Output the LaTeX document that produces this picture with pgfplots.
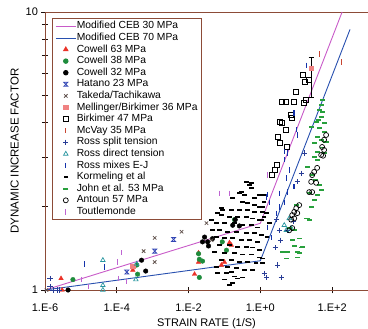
\documentclass[border=0pt]{standalone}
\usepackage{pgfplots}
\pgfplotsset{compat=1.18}
\usepackage{fontspec}
\setmainfont{Liberation Sans}
\definecolor{axbrown}{RGB}{140,75,55}
\definecolor{ceb30}{RGB}{200,90,200}
\definecolor{ceb70}{RGB}{40,80,175}
\definecolor{cred}{RGB}{235,50,40}
\definecolor{cgreen}{RGB}{30,140,60}
\definecolor{hblue}{RGB}{50,70,180}
\definecolor{tgray}{RGB}{95,80,75}
\definecolor{mpink}{RGB}{240,130,130}
\definecolor{mcvay}{RGB}{200,70,50}
\definecolor{rsblue}{RGB}{40,60,150}
\definecolor{rdteal}{RGB}{40,150,160}
\definecolor{rmblue}{RGB}{20,50,170}
\definecolor{jgreen}{RGB}{40,160,60}
\definecolor{tviolet}{RGB}{190,100,210}
\pgfdeclareplotmark{hourglass}{%
  \pgfpathmoveto{\pgfqpoint{-\pgfplotmarksize}{\pgfplotmarksize}}%
  \pgfpathlineto{\pgfqpoint{\pgfplotmarksize}{\pgfplotmarksize}}%
  \pgfpathlineto{\pgfqpoint{-\pgfplotmarksize}{-\pgfplotmarksize}}%
  \pgfpathlineto{\pgfqpoint{\pgfplotmarksize}{-\pgfplotmarksize}}%
  \pgfpathclose\pgfusepathqstroke}
\begin{document}
\begin{tikzpicture}
\useasboundingbox (-45pt,-39pt) rectangle (323pt,290pt);
\begin{axis}[
  at={(0pt,0pt)}, anchor=south west,
  scale only axis, width=323pt, height=278pt,
  xmode=log, ymode=log,
  xmin=1e-6, xmax=1e3, ymin=1, ymax=10,
  axis x line*=box, axis y line*=left,
  axis line style={axbrown, line width=0.8pt},
  xtick={1e-6,1e-4,1e-2,1,1e2},
  xticklabels={1.E-6,1.E-4,1.E-2,1.E+0,1.E+2},
  minor xtick={},
  ytick={1,10}, yticklabels={1,10},
  minor ytick={2,3,4,5,6,7,8,9},
  xtick pos=bottom, ytick pos=left,
  tick align=center,
  major tick length=7pt, minor tick length=6pt,
  tick style={black!80!axbrown, line width=0.7pt},
  ticklabel style={font=\fontsize{11}{13}\selectfont},
  xticklabel style={yshift=-7pt},
  xlabel={STRAIN RATE (1/S)},
  ylabel={DYNAMIC INCREASE FACTOR},
  xlabel style={font=\fontsize{11}{13}\selectfont},
  ylabel style={font=\fontsize{11.5}{13}\selectfont},
  clip=false,
  legend cell align=left,
  legend style={at={(0.0217,0.978)}, anchor=north west, draw=axbrown, line width=0.8pt,
    font=\fontsize{10.3}{12}\selectfont, row sep=0pt,
    nodes={inner sep=0.6pt, text height=7.8pt, text depth=2.6pt},
    legend image post style={line width=0.8pt}},
  legend image code/.code={\draw[mark repeat=2,mark phase=2] plot coordinates {(0pt,0pt) (10pt,0pt) (20pt,0pt)};},
]
\addplot[ceb30, line width=0.9pt, no marks] coordinates {(1e-6,1) (1,1.738) (190,10)};
\addlegendentry{Modified CEB 30 MPa}
\addplot[ceb70, line width=0.9pt, no marks] coordinates {(1e-6,1) (1,1.274) (316,8.66)};
\addlegendentry{Modified CEB 70 MPa}
\addplot[only marks, mark=triangle*, mark size=2.6pt, color=cred] coordinates {
(2.8e-6,1.10) (3.0e-6,1.0) (2.8e-4,1.18) (1.9e-2,1.36) (1.9e-2,1.26) (1.47e-2,1.14)
(0.138,1.48) (0.1,1.26) (0.0825,1.23) (0.156,1.45)};
\addlegendentry{Cowell 63 MPa}
\addplot[only marks, mark=*, mark size=2.3pt, color=cgreen] coordinates {
(6.0e-6,1.09) (3.6e-4,1.23) (3.8e-4,1.14) (1.9e-2,1.35) (2.0e-2,1.29) (2.45e-2,1.27)
(2.0e-2,1.11) (0.19,1.79) (0.087,1.49) (0.114,1.39)};
\addlegendentry{Cowell 38 MPa}
\addplot[only marks, mark=*, mark size=2.3pt, color=black] coordinates {
(4.4e-6,1.0) (4.9e-4,1.28) (6.4e-4,1.17) (2.8e-2,1.55) (3.4e-2,1.49) (2.45e-2,1.49)
(3.6e-2,1.44) (4.64e-2,1.53) (0.20,1.79) (0.26,1.70) (0.17,1.71)};
\addlegendentry{Cowell 32 MPa}
\addplot[only marks, mark=hourglass, mark size=2pt, color=hblue, mark options={line width=0.8pt}] coordinates {
(1.9e-4,1.16) (1.14e-3,1.38) (3.83e-3,1.52)};
\addlegendentry{Hatano 23 MPa}
\addplot[only marks, mark=x, mark size=2.4pt, color=tgray, mark options={line width=0.8pt}] coordinates {
(1.1e-6,1.0) (5.6e-4,1.38) (1.14e-3,1.54) (1.14e-3,1.26) (6.4e-3,1.62) (3.16e-2,1.74) (4.4e-2,1.51)};
\addlegendentry{Takeda/Tachikawa}
\addplot[only marks, mark=square*, mark size=2.2pt, color=mpink,
  error bars/.cd, y dir=both, y explicit, error bar style={black, line width=0.7pt}, error mark options={black, mark size=2.5pt, rotate=90}] coordinates {
(2.8e-4,1.22) +- (0,0) (26,6.28) += (0,0.6) -= (0,1.33)};
\addlegendentry{Mellinger/Birkimer 36 MPa}
\addplot[only marks, mark=square, mark size=2.5pt, color=black, mark options={line width=0.7pt}] coordinates {
(15.5,5.93) (23,5.69) (17.8,5.6) (10,5.15) (4.0,4.75) (5.3,4.75) (8.7,4.75) (19,4.82)
(16.7,4.7) (7.2,4.26) (7.6,4.15) (3.4,4.02) (4.0,3.98) (5.3,3.77) (3.0,3.55) (3.4,3.38)
(5.6,3.27) (2.8,2.82) (2.15,2.59) (2.6,2.70)};
\addlegendentry{Birkimer 47 MPa}
\addplot[only marks, mark=|, mark size=2.6pt, color=mcvay, mark options={line width=1.1pt}] coordinates {
(44,7.06) (178,6.61)};
\addlegendentry{McVay 35 MPa}
\addplot[only marks, mark=+, mark size=2.6pt, color=rsblue, mark options={line width=0.8pt}] coordinates {
(1.38e-6,1.10) (1.38e-6,1.03) (1.67e-6,1.0) (2.15e-6,1.0) (2.6e-6,1.0) (1.29,1.15) (1.5,1.11)
(3.83,1.11) (3.0,1.23) (2.6,1.42) (3.6,1.51) (3.4,1.64) (2.8,1.79) (5.6,1.64) (8.25,1.76)
(10.7,2.45) (13.8,2.63) (16.7,3.11)};
\addlegendentry{Ross split tension}
\addplot[only marks, mark=triangle, mark size=2.6pt, color=rdteal, mark options={line width=0.7pt}] coordinates {
(4.1e-5,1.28) (4.1e-5,1.0) (4.1e-5,1.04) (3.4e-4,1.09) (3.6e-4,1.24) (6.4,1.81) (4.64,1.71)
(5.3,1.64) (7.2,1.67)};
\addlegendentry{Ross direct tension}
\addplot[only marks, mark=|, mark size=2.6pt, color=rmblue, mark options={line width=1.1pt}] coordinates {
(1.29e-5,1.24) (4.64e-5,1.21) (1.47,2.16) (1.78,2.07) (3.4,1.99) (2.8,1.89) (5.6,2.25)
(5.3,2.53) (6.4,2.70) (4.64,2.94) (5.6,3.11) (1.6,1.68) (2.0,1.54) (4.64,2.06) (3.4,2.23)
(8.7,2.35) (8.7,4.33) (10.7,3.61) (10,3.77) (4.64,3.14) (19,6.44) (1.6,2.20)};
\addlegendentry{Ross mixes E-J}
\addplot[only marks, mark=-, mark size=2.2pt, color=black, mark options={line width=1.6pt}] coordinates {
(0.495,2.39) (0.562,2.33) (0.94,2.20) (1.29,2.20) (0.681,2.14) (0.316,2.07) (0.44,2.06)
(0.681,2.02) (0.94,1.99) (0.088,1.94) (0.156,1.94) (0.261,1.94) (0.44,1.94) (0.681,1.91)
(1.14,1.91) (0.0825,1.86) (0.138,1.83) (0.23,1.83) (0.41,1.83) (0.60,1.81) (0.94,1.79)
(0.060,1.74) (0.10,1.74) (0.19,1.74) (0.316,1.71) (0.562,1.71) (0.825,1.68) (0.0464,1.64)
(0.073,1.64) (0.121,1.62) (0.215,1.62) (0.41,1.60) (0.681,1.60) (1.07,1.58) (0.060,1.55)
(0.10,1.54) (0.167,1.54) (0.297,1.51) (0.495,1.51) (0.825,1.49) (0.073,1.45) (0.138,1.45)
(0.23,1.43) (0.41,1.43) (0.60,1.42) (0.94,1.39) (0.053,1.37) (0.10,1.36) (0.19,1.36)
(0.316,1.34) (0.562,1.34) (0.94,1.31) (0.0825,1.28) (0.156,1.28) (0.261,1.26) (0.44,1.26)
(0.77,1.25) (1.14,1.25) (0.060,1.21) (0.121,1.21) (0.215,1.20) (0.36,1.18) (0.60,1.18)
(0.114,1.15) (0.19,1.12) (0.316,1.11) (0.10,1.09) (0.167,1.06) (1.14,1.30) (1.78,1.74)
(1.56,1.55) (1.29,1.83) (0.044,1.79) (0.41,2.45) (0.297,2.25) (0.0825,1.97) (0.064,1.89)
(0.562,2.42) (0.261,2.23) (0.36,2.20) (0.167,2.14) (0.064,1.15) (0.156,1.16) (0.23,1.10)
(0.138,1.04) (1.07,1.79) (1.29,2.07) (1.14,1.99) (1.47,1.89)};
\addlegendentry{Kormeling et al}
\addplot[only marks, mark=-, mark size=2.6pt, color=jgreen, mark options={line width=1.6pt}] coordinates {
(52.7,4.82) (43.5,4.44) (52.7,4.37) (49.5,4.20) (35.9,4.02) (59.9,3.98) (43.5,3.83)
(59.9,3.71) (38.3,3.55) (49.5,3.47) (68,3.41) (31.6,3.38) (52.7,3.25) (38.3,3.14)
(59.9,3.11) (31.6,3.01) (38.3,2.94) (20.2,2.77) (23,2.23) (10,2.02) (20.2,1.81) (8.8,1.64)
(6.38,1.67) (12.1,1.53) (8.8,1.44) (14.7,1.43) (4.08,1.37) (10.7,1.37) (5.27,1.30)
(10.7,1.31) (5.6,1.37) (12.1,1.36) (13.8,1.42) (7.74,1.51) (19,1.81) (23,1.79) (27.8,2.59)
(33.7,2.49) (43.5,2.39) (49.5,2.29) (38.3,2.20) (31.6,2.11) (26.1,1.99) (40.8,4.09)
(26.1,3.86) (49.5,4.63)};
\addlegendentry{John et al. 53 MPa}
\addplot[only marks, mark=o, mark size=2.5pt, color=black, mark options={line width=0.7pt}] coordinates {
(68.1,3.61) (59.9,3.47) (52.7,3.27) (59.9,3.19) (49.5,3.06) (56.2,3.04) (31.6,2.66)
(27.8,2.59) (38.3,2.75) (26.1,2.45) (23,2.25) (27.8,2.25) (12.1,2.02) (10,1.97) (8.8,1.91)
(7.74,1.86) (7.26,1.79) (7.74,1.67) (6.38,1.64) (10.7,1.89) (8.8,1.81) (35.9,2.43)};
\addlegendentry{Antoun 57 MPa}
\addplot[only marks, mark=|, mark size=2.6pt, color=tviolet, mark options={line width=1.1pt}] coordinates {
(1.07e-5,1.09) (1.67e-5,1.03) (1.07e-4,1.26) (1.38e-4,1.36) (1.14e-4,1.10) (1.9e-4,1.07)
(7.26e-2,2.23) (0.138,2.23) (1.56,2.59)};
\addlegendentry{Toutlemonde}
\end{axis}
\end{tikzpicture}
\end{document}
